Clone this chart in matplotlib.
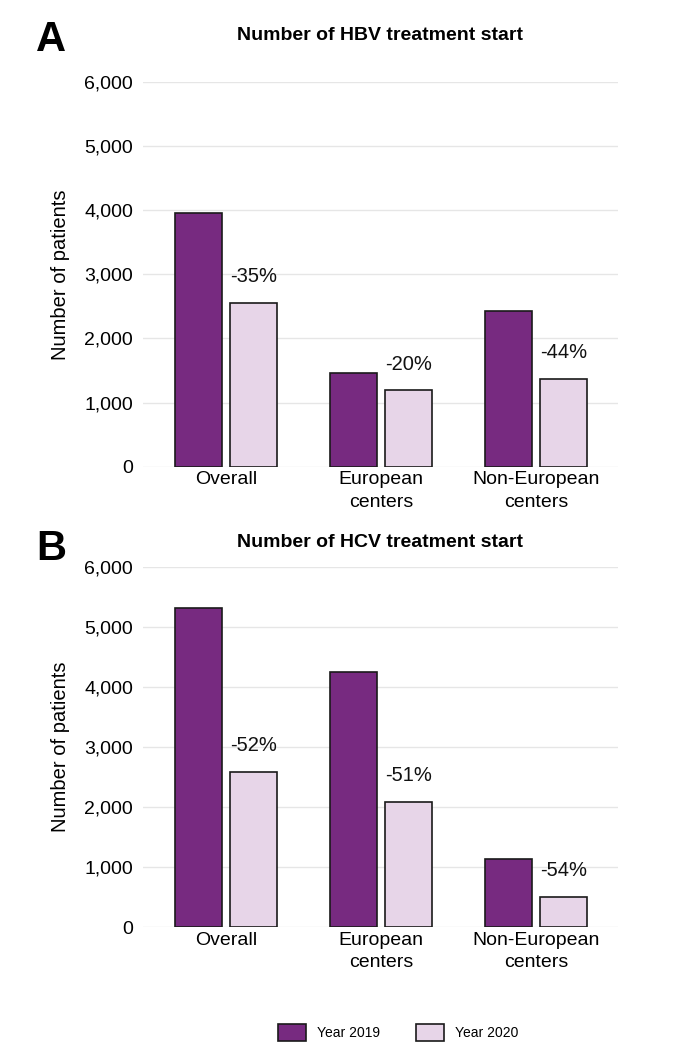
import matplotlib
matplotlib.use("Agg")
import matplotlib.pyplot as plt
from matplotlib.patches import Patch
import numpy as np

plt.rcParams['font.family'] = ['Liberation Sans', 'DejaVu Sans']

# Data
groups = ["Overall", "European\ncenters", "Non-European\ncenters"]
hbv_2019 = [3950, 1465, 2425]
hbv_2020 = [2550, 1190, 1370]
hbv_change = ["-35%", "-20%", "-44%"]
hcv_2019 = [5310, 4250, 1130]
hcv_2020 = [2580, 2090, 510]
hcv_change = ["-52%", "-51%", "-54%"]
yticks = [0, 1000, 2000, 3000, 4000, 5000, 6000]

c2019 = '#772A80'
c2020 = '#E7D5E8'
edge = '#1a1a1a'

fig = plt.figure(figsize=(6.92, 10.55), dpi=100)
axA = fig.add_axes([0.2066, 0.5576, 0.6864, 0.3647])
axB = fig.add_axes([0.2066, 0.1210, 0.6864, 0.3418])


def draw_panel(ax, v19, v20, changes, title, title_pad):
    x = np.arange(len(groups))
    w = 0.306
    off = 0.177
    ax.bar(x - off, v19, width=w, color=c2019, edgecolor=edge, linewidth=1.2, zorder=3)
    ax.bar(x + off, v20, width=w, color=c2020, edgecolor=edge, linewidth=1.2, zorder=3)
    for xi, val, txt in zip(x, v20, changes):
        ax.annotate(txt, xy=(xi + off, val), xytext=(0, 19), textcoords='offset points',
                    ha='center', va='center', fontsize=14.5, color='#111111')
    ax.set_ylim(0, 6000)
    ax.set_xlim(-0.535, 2.53)
    ax.set_yticks(yticks)
    ax.set_yticklabels([f"{t:,}" for t in yticks], fontsize=14)
    ax.set_xticks(x)
    ax.set_xticklabels(groups, fontsize=14, linespacing=1.45)
    ax.tick_params(axis='y', length=0, pad=7)
    ax.tick_params(axis='x', length=0, pad=3)
    ax.grid(axis='y', color='#e6e6e6', linewidth=1.0, zorder=0)
    for s in ax.spines.values():
        s.set_visible(False)
    ax.set_ylabel("Number of patients", fontsize=14.5, labelpad=10)
    ax.set_title(title, fontsize=14, fontweight='bold', pad=title_pad)


draw_panel(axA, hbv_2019, hbv_2020, hbv_change, "Number of HBV treatment start", 30.5)
draw_panel(axB, hcv_2019, hcv_2020, hcv_change, "Number of HCV treatment start", 14)

fig.text(51 / 692, 1 - 51 / 1055, "A", fontsize=30, fontweight='bold', ha='center', va='baseline')
fig.text(51 / 692, 1 - 560 / 1055, "B", fontsize=30, fontweight='bold', ha='center', va='baseline')

handles = [Patch(facecolor=c2019, edgecolor=edge, linewidth=1.2, label="Year 2019"),
           Patch(facecolor=c2020, edgecolor=edge, linewidth=1.2, label="Year 2020")]
fig.legend(handles=handles, loc='center', bbox_to_anchor=(0.575, 0.021), ncol=2,
           frameon=False, fontsize=10, handlelength=2.0, handleheight=1.5,
           columnspacing=2.6, handletextpad=0.8)

fig.savefig("out.png", dpi=100, facecolor='white')
